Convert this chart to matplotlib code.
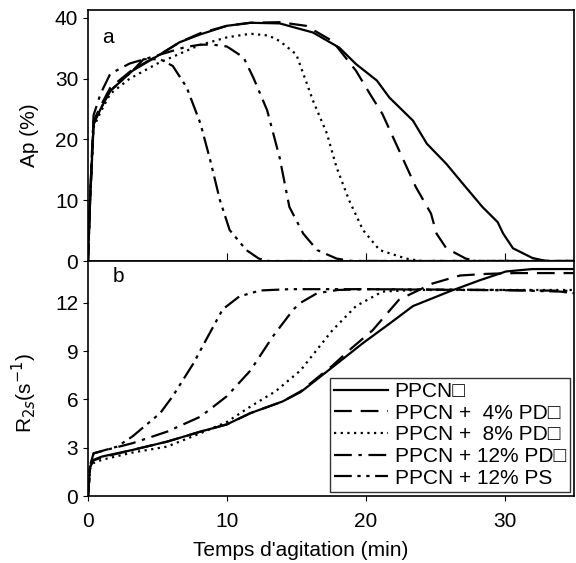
import numpy as np
from matplotlib import pyplot as plt

plt.rcParams['font.family'] = ['Liberation Sans', 'DejaVu Sans']
plt.rcParams['font.size'] = 15

labels = ['PPCN\u25a1', 'PPCN +  4% PD\u25a1', 'PPCN +  8% PD\u25a1',
          'PPCN + 12% PD\u25a1', 'PPCN + 12% PS']
styles = ['-', (0, (8, 4)), (0, (1, 2)), (0, (8, 3, 1.5, 3)),
          (0, (8, 2.5, 1.5, 2.5, 1.5, 2.5))]

# panel a : Ap (%) vs time (min)
t_a0 = [0, 0.15, 0.4, 0.9, 1.6, 3.2, 5.2, 6.6, 8.1, 10, 11.7, 13.8, 16.2, 18.1, 19.3, 20.8,
        21.7, 23.4, 24.4, 25.8, 27.0, 28.4, 29.5, 29.9, 30.6, 32.0, 33, 35]
ap_0 = [0, 10, 22.5, 25, 28, 31.3, 34, 36, 37.3, 38.7, 39.2, 39.1, 37.6, 35.1, 32.4, 29.7,
        26.9, 23.1, 19.3, 16.0, 12.7, 8.9, 6.4, 4.5, 2.1, 0.5, 0, 0]
t_a1 = [0, 0.15, 0.4, 0.9, 1.6, 3.2, 5.2, 6.6, 8.1, 10, 11.7, 13.8, 15.7, 17.6, 19.3, 20.3,
        21.2, 22.4, 23.6, 24.7, 25.1, 25.8, 27.2, 28, 35]
ap_1 = [0, 10, 23, 25.5, 28.5, 31.5, 34, 36, 37.5, 38.7, 39.2, 39.3, 38.7, 36.2, 31.3, 27.5,
        24.2, 18.2, 12.2, 7.8, 4.5, 2.1, 0.4, 0, 0]
t_a2 = [0, 0.15, 0.4, 0.9, 1.6, 3, 5, 8, 10, 11.7, 13, 13.8, 15.0, 16.2, 17.2, 17.9, 18.8,
        19.8, 21.0, 22.9, 24, 35]
ap_2 = [0, 10, 22, 24.5, 27.5, 30, 32.5, 35.5, 36.8, 37.4, 37.1, 36.2, 34.0, 26.4, 21.0,
        15.4, 10, 5.1, 1.8, 0.4, 0, 0]
t_a3 = [0, 0.15, 0.4, 0.9, 1.6, 3, 4.5, 7, 8.1, 9, 10.0, 11.2, 11.9, 12.9, 13.8, 14.5, 15.5,
        16.5, 17.9, 19, 35]
ap_3 = [0, 11, 24, 27.5, 30.8, 32.5, 33.5, 35.2, 35.6, 35.6, 35.3, 33.5, 30.2, 24.8, 17,
        8.9, 4.5, 1.8, 0.4, 0, 0]
t_a4 = [0, 0.15, 0.4, 0.9, 1.6, 3.2, 4.0, 5.2, 6.1, 7.1, 8.1, 8.8, 9.5, 10.2, 11.4, 12.3,
        13, 35]
ap_4 = [0, 10, 22.5, 25, 28, 31.3, 33.2, 33.2, 32.1, 28.6, 22.6, 16.6, 10, 5.1, 1.8, 0.4,
        0, 0]

# panel b : R2s (s-1) vs time (min)
t_b0 = [0, 0.15, 0.38, 1, 3.2, 5.7, 8.1, 10, 11.7, 14.0, 15.3, 17.6, 19.8, 21.7, 23.4,
        26.0, 28.2, 30.1, 32.0, 35]
r_0 = [0, 1.8, 2.24, 2.45, 2.86, 3.38, 4.0, 4.45, 5.15, 5.87, 6.45, 8.0, 9.5, 10.7, 11.8,
       12.7, 13.4, 13.95, 14.1, 14.1]
t_b1 = [0, 0.15, 0.38, 1, 3.2, 5.7, 8.1, 10, 11.7, 14.0, 15.3, 17.6, 19.0, 20.5, 22.4,
        24.8, 26.8, 28.7, 30.8, 35]
r_1 = [0, 1.8, 2.2, 2.4, 2.86, 3.38, 4.0, 4.45, 5.15, 5.87, 6.5, 8.1, 9.2, 10.3, 12.2,
       13.2, 13.7, 13.8, 13.85, 13.85]
t_b2 = [0, 0.15, 0.4, 1, 3.2, 5.7, 8.1, 10, 11.7, 13.5, 15.3, 17.6, 19.3, 21.2, 23.6, 35]
r_2 = [0, 1.7, 2.05, 2.25, 2.7, 3.07, 3.9, 4.6, 5.56, 6.5, 7.8, 10.3, 11.8, 12.7, 12.8, 12.8]
t_b3 = [0, 0.15, 0.4, 1.3, 3.2, 5.7, 8.1, 10, 11.7, 13.3, 14.8, 15.3, 16.5, 18, 20, 35]
r_3 = [0, 1.9, 2.65, 2.86, 3.28, 4.0, 4.93, 6.2, 7.8, 9.9, 11.6, 12.0, 12.6, 12.8, 12.85,
       12.75]
t_b4 = [0, 0.15, 0.4, 2.1, 3.2, 5.2, 6.1, 7.6, 8.5, 9.7, 10.9, 12.4, 14.5, 20, 30, 34, 35]
r_4 = [0, 1.9, 2.65, 3.07, 3.7, 5.15, 6.2, 8.25, 9.7, 11.6, 12.4, 12.77, 12.85, 12.85,
       12.8, 12.7, 12.6]

t_a = [t_a0, t_a1, t_a2, t_a3, t_a4]
ap = [ap_0, ap_1, ap_2, ap_3, ap_4]
t_b = [t_b0, t_b1, t_b2, t_b3, t_b4]
r2s = [r_0, r_1, r_2, r_3, r_4]

fig = plt.figure(figsize=(5.76, 5.63), dpi=100)
ax1 = fig.add_axes([0.1528, 0.5364, 0.8438, 0.4458])
ax2 = fig.add_axes([0.1528, 0.119, 0.8438, 0.4174])

for i in range(5):
    ax1.plot(t_a[i], ap[i], color='black', linestyle=styles[i], lw=1.6)
    ax2.plot(t_b[i], r2s[i], color='black', linestyle=styles[i], lw=1.6, label=labels[i])

ax1.set_xlim(0, 35)
ax1.set_ylim(0, 41.3)
ax1.set_yticks([0, 10, 20, 30, 40])
ax1.set_xticks([10, 20, 30])
ax1.tick_params(axis='x', direction='in', labelbottom=False, length=6)
ax1.set_ylabel('Ap (%)')
ax1.yaxis.set_label_coords(-0.10, 0.5)
ax1.text(0.03, 0.87, 'a', transform=ax1.transAxes)

ax2.set_xlim(0, 35)
ax2.set_ylim(0, 14.6)
ax2.set_yticks([0, 3, 6, 9, 12])
ax2.set_xticks([0, 10, 20, 30])
ax2.tick_params(axis='x', pad=8)
ax2.set_ylabel('R$_{2s}$(s$^{-1}$)')
ax2.yaxis.set_label_coords(-0.10, 0.44)
ax2.set_xlabel("Temps d'agitation (min)")
ax2.xaxis.set_label_coords(0.438, -0.19)
ax2.text(0.05, 0.91, 'b', transform=ax2.transAxes)

for ax in (ax1, ax2):
    for s in ax.spines.values():
        s.set_linewidth(1.2)

leg = ax2.legend(loc='lower right', frameon=True, fancybox=False, edgecolor='black',
                 handlelength=2.6, borderpad=0.2, labelspacing=0.13, handletextpad=0.3,
                 borderaxespad=0.2)
leg.get_frame().set_linewidth(1.0)

fig.savefig('out.png', dpi=100)
